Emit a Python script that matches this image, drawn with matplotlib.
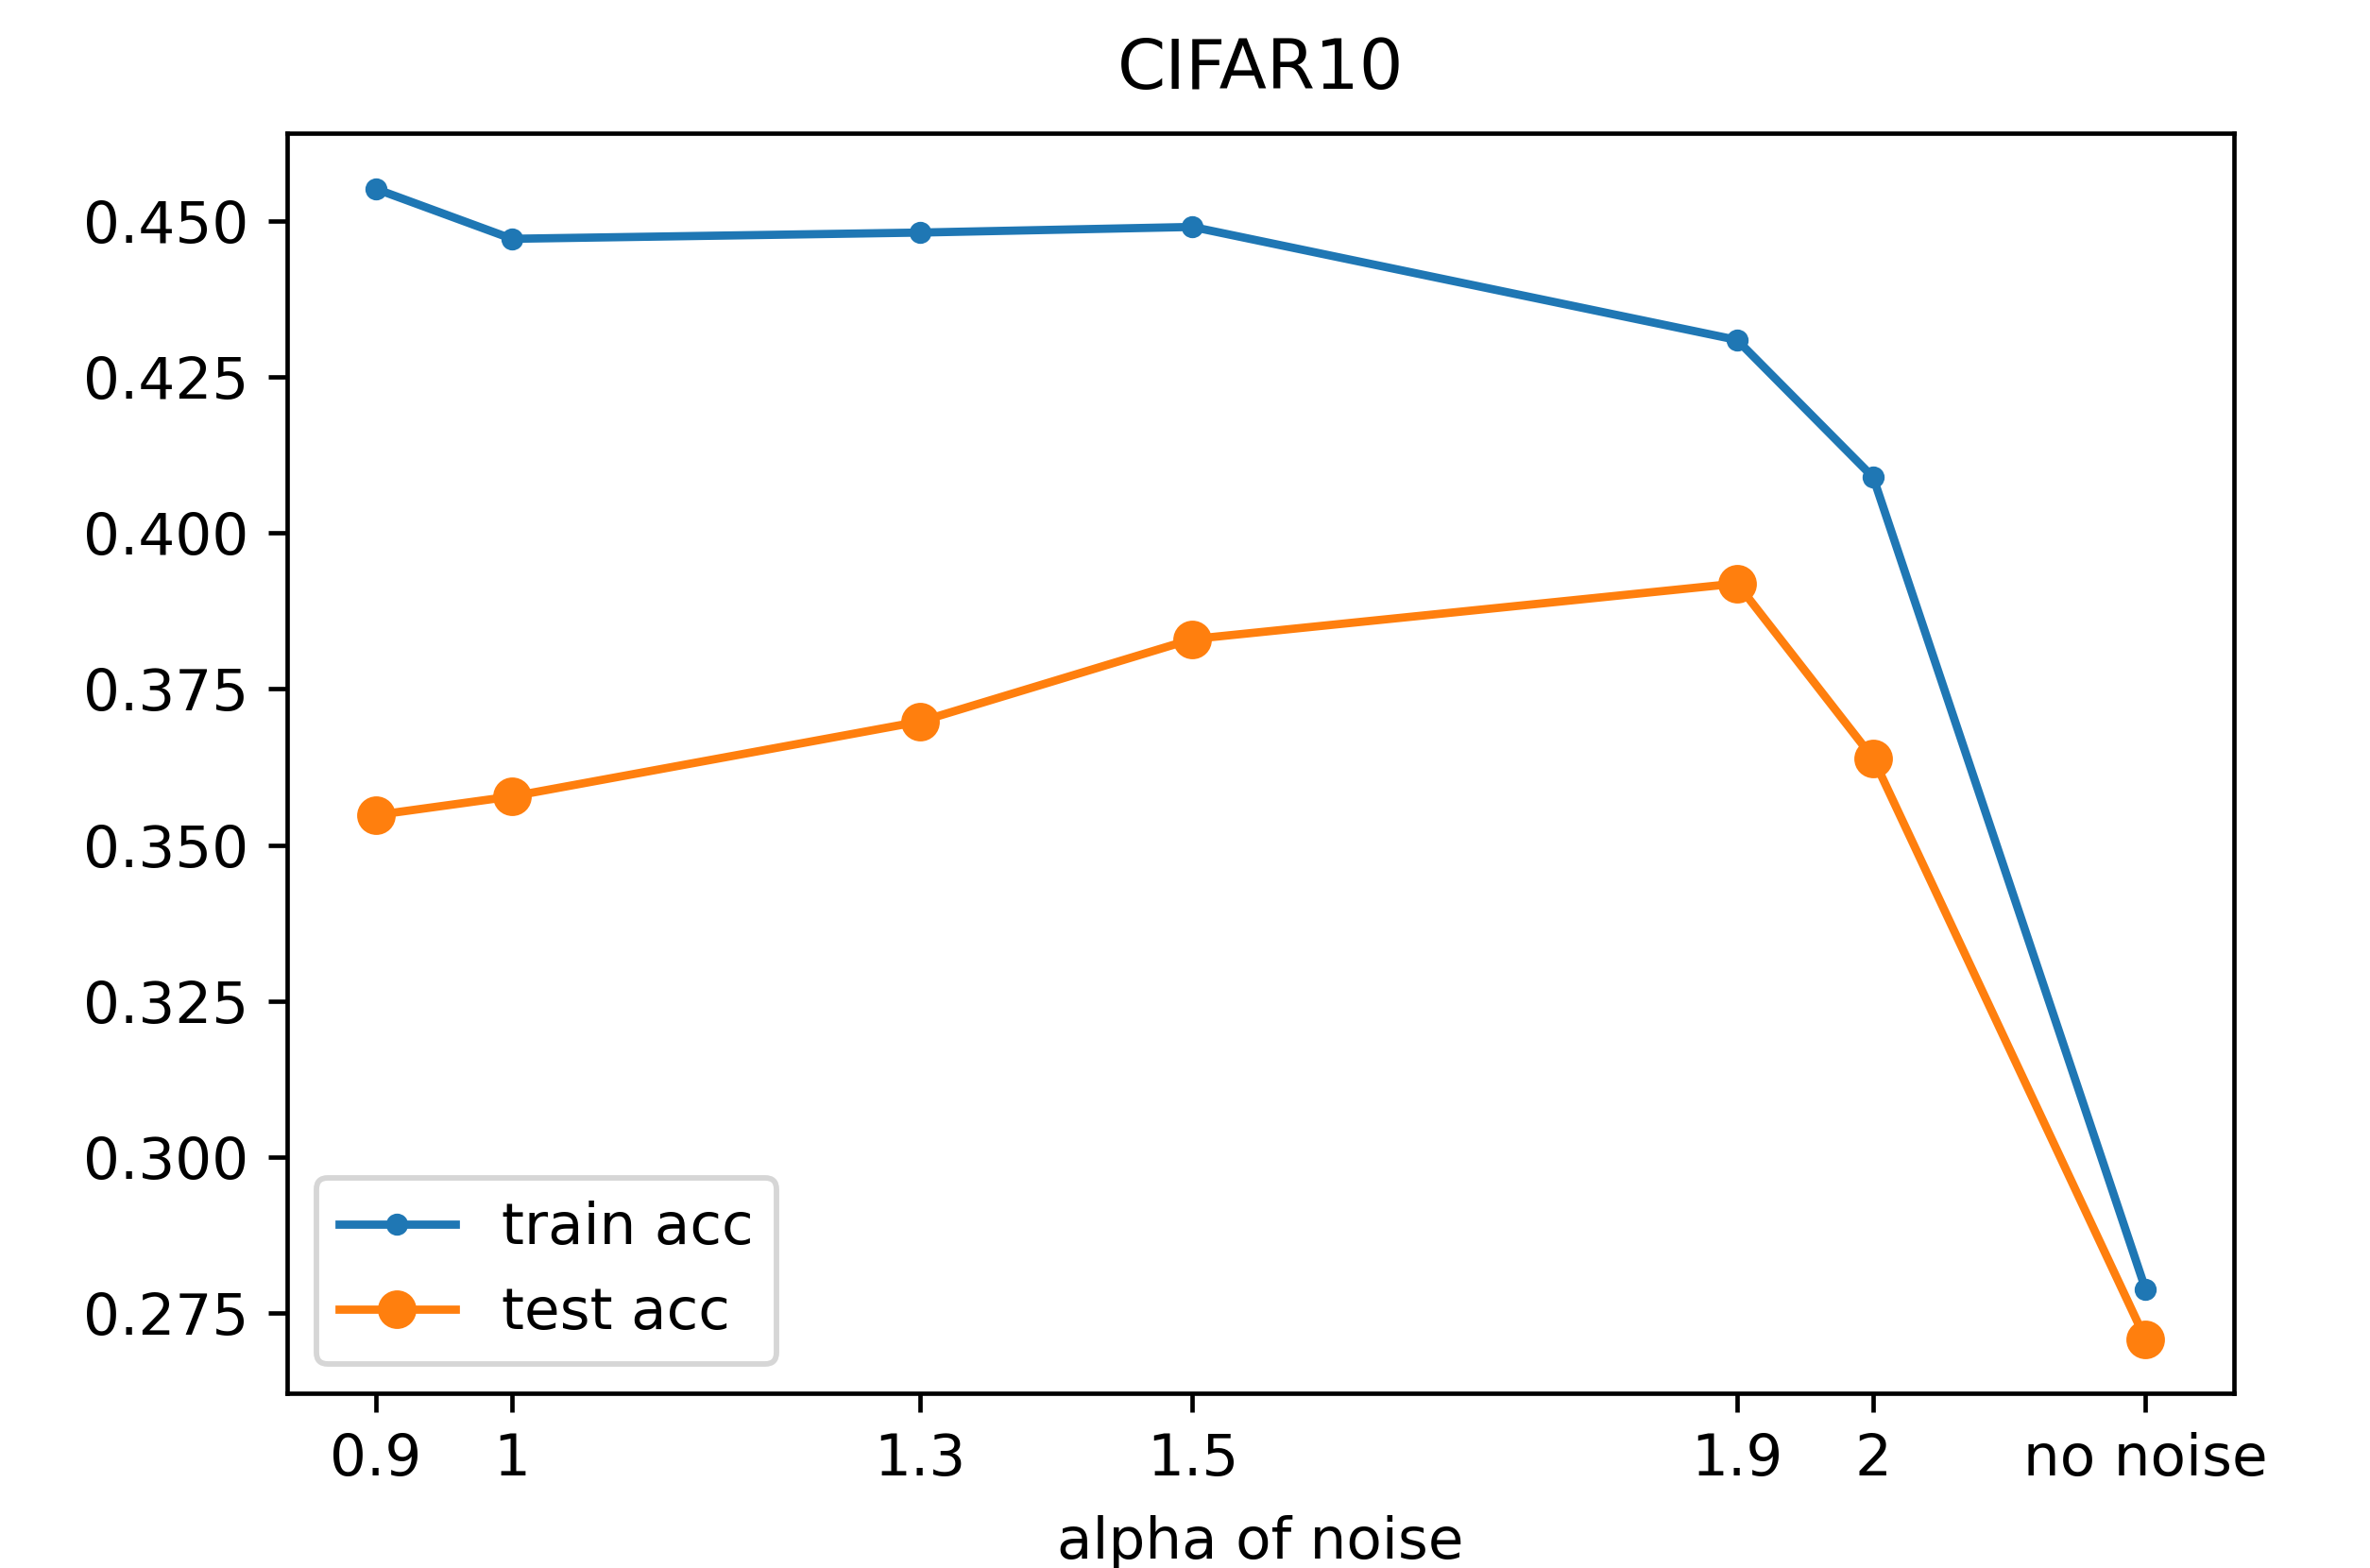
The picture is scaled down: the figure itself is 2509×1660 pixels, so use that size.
import matplotlib
matplotlib.use("Agg")
import matplotlib.pyplot as plt

# noise alpha values, last one is the "no noise" run
alphas = [0.9, 1, 1.3, 1.5, 1.9, 2, 2.2]
tick_labels = ["0.9", "1", "1.3", "1.5", "1.9", "2", "no noise"]
train_acc = [0.4551, 0.4471, 0.4481, 0.4490, 0.4309, 0.4089, 0.2789]
test_acc = [0.3548, 0.3578, 0.3698, 0.3830, 0.3919, 0.3639, 0.2709]

plt.rcParams["font.size"] = 10.5

dpi = 420
fig = plt.figure(figsize=(2509 / dpi, 1660 / dpi), dpi=dpi)
ax = fig.add_axes([0.1212, 0.1114, 0.8214, 0.8036])

ax.plot(alphas, train_acc, marker=".", label="train acc")
ax.plot(alphas, test_acc, marker="o", label="test acc")

ax.set_xticks(alphas)
ax.set_xticklabels(tick_labels)
ax.set_ylim(0.2622, 0.464)
ax.set_xlabel("alpha of noise", labelpad=5)
ax.set_title("CIFAR10", pad=8)
ax.legend(loc="lower left")

fig.savefig("out.png", dpi=dpi)
